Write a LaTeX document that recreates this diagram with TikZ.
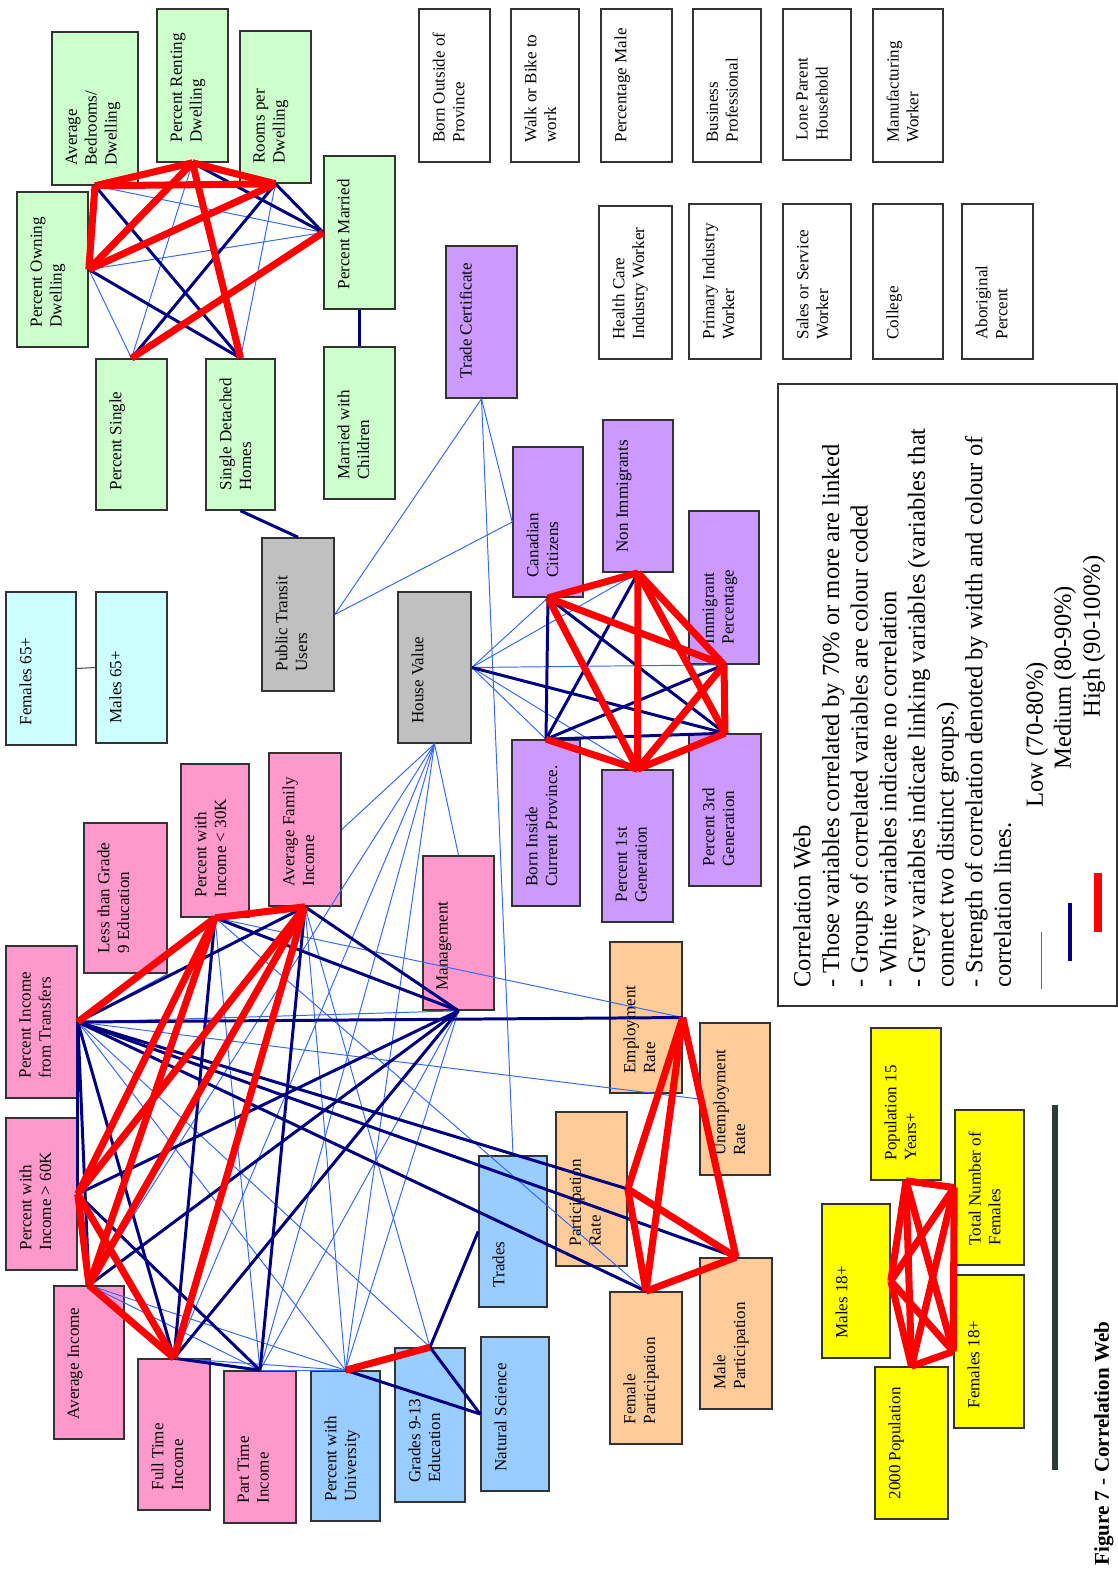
\documentclass[tikz,border=0pt]{standalone}
\usepackage{fontspec}
\setmainfont{Liberation Serif}
\usetikzlibrary{calc}
\definecolor{grn}{HTML}{CCFFCC}
\definecolor{prp}{HTML}{CC99FF}
\definecolor{pnk}{HTML}{FF99CC}
\definecolor{skyb}{HTML}{99CCFF}
\definecolor{orng}{HTML}{FFCC99}
\definecolor{yelw}{HTML}{FFFF00}
\definecolor{gry}{HTML}{C0C0C0}
\definecolor{cyn}{HTML}{CCFFFF}
\definecolor{navy}{HTML}{000080}
\definecolor{hired}{HTML}{FF0000}
\definecolor{lowblue}{HTML}{3366FF}
\definecolor{barc}{HTML}{2F3B3B}
\tikzset{
  box/.style={draw=black!80, line width=0.9pt, rectangle, inner sep=0pt},
  lbl/.style={rotate=90, anchor=north west, align=left, inner sep=0pt, font=\fontsize{9.7}{11.3}\selectfont},
  legtext/.style={rotate=90, inner sep=0pt, font=\fontsize{14}{16.3}\selectfont},
  low/.style={draw=lowblue, line width=0.55pt},
  med/.style={draw=navy, line width=1.7pt},
  high/.style={draw=hired, line width=4pt},
}
\def\corrbox[#1](#2)(#3,#4)(#5,#6)#7{%
  \node[box, fill=#1, minimum width={(#5-#3)*0.02cm}, minimum height={(#6-#4)*0.02cm}] (#2) at ({(#3+#5)/2},{(#4+#6)/2}) {};
  \node[lbl] at ([shift={(14,-20)}]#2.south west) {#7};}

\begin{document}
\begin{tikzpicture}[x=0.02cm, y=-0.02cm]
%%%%% START %%%%%
\useasboundingbox (0,0) rectangle (1118,1569);

% housing group
\corrbox[grn](avgbed)(52,32)(138,185){Average\\Bedrooms/\\Dwelling}
\corrbox[grn](rent)(157,9)(228,162){Percent Renting\\Dwelling}
\corrbox[grn](rooms)(240,31)(311,183){Rooms per\\Dwelling}
\corrbox[grn](own)(17,192)(88,347){Percent Owning\\Dwelling}
\corrbox[grn](married)(324,156)(395,309){Percent Married}
\corrbox[grn](single)(96,359)(167,510){Percent Single}
\corrbox[grn](detached)(206,359)(275,510){Single Detached\\Homes}
\corrbox[grn](marchild)(324,347)(395,499){Married with\\Children}

% no correlation
\corrbox[white](bornout)(419,9)(490,162){Born Outside of\\Province}
\corrbox[white](walk)(511,9)(579,162){Walk or Bike to\\work}
\corrbox[white](pctmale)(601,9)(672,162){Percentage Male}
\corrbox[white](busprof)(693,9)(761,162){Business\\Professional}
\corrbox[white](loneparent)(783,9)(851,160){Lone Parent\\Household}
\corrbox[white](manuf)(873,9)(943,162){Manufacturing\\Worker}
\corrbox[white](health)(599,206)(672,359){Health Care\\Industry Worker}
\corrbox[white](primary)(689,204)(761,359){Primary Industry\\Worker}
\corrbox[white](sales)(783,204)(851,359){Sales or Service\\Worker}
\corrbox[white](college)(873,204)(943,359){College}
\corrbox[white](aborig)(962,204)(1033,359){Aboriginal\\Percent}

% citizenship group
\corrbox[prp](trade)(446,246)(517,398){Trade Certificate}
\corrbox[prp](cc)(513,447)(583,597){Canadian\\Citizens}
\corrbox[prp](ni)(603,420)(673,572){Non Immigrants}
\corrbox[prp](ip)(689,511)(759,664){Immigrant\\Percentage}
\corrbox[prp](bi)(512,740)(580,906){Born Inside\\Current Province.}
\corrbox[prp](pf)(602,770)(673,922){Percent 1st\\Generation}
\corrbox[prp](pt)(689,734)(761,886){Percent 3rd\\Generation}

% linking variables
\corrbox[gry](transit)(262,538)(334,691){Public Transit\\Users}
\corrbox[gry](hv)(398,592)(471,743){House Value}

\corrbox[cyn](fem65)(6,592)(76,745){Females 65+}
\corrbox[cyn](male65)(96,592)(167,743){Males 65+}

% income group
\corrbox[pnk](lg9)(84,823)(167,973){Less than Grade\\9 Education}
\corrbox[pnk](inc30k)(181,764)(249,917){Percent with\\Income < 30K}
\corrbox[pnk](avgfam)(269,753)(341,906){Average Family\\Income}
\corrbox[pnk](mgmt)(423,856)(494,1010){Management}
\corrbox[pnk](transfers)(6,946)(77,1098){Percent Income\\from Transfers}
\corrbox[pnk](inc60k)(6,1118)(77,1270){Percent with\\Income > 60K}
\corrbox[pnk](avginc)(54,1286)(124,1439){Average Income}
\corrbox[pnk](fulltime)(138,1359)(210,1510){Full Time\\Income}
\corrbox[pnk](parttime)(224,1371)(296,1523){Part Time\\Income}

% education group
\corrbox[skyb](univ)(311,1371)(380,1521){Percent with\\University}
\corrbox[skyb](grades)(395,1348)(465,1502){Grades 9-13\\Education}
\corrbox[skyb](natsci)(481,1337)(549,1491){Natural Science}
\corrbox[skyb](trades)(479,1156)(547,1307){Trades}

% labour group
\corrbox[orng](emp)(610,942)(682,1093){Employment\\Rate}
\corrbox[orng](unemp)(700,1023)(770,1175){Unemployment\\Rate}
\corrbox[orng](part)(556,1112)(627,1266){Participation\\Rate}
\corrbox[orng](femp)(610,1292)(682,1444){Female\\Participation}
\corrbox[orng](malep)(700,1258)(772,1409){Male\\Participation}

% population group
\corrbox[yelw](pop15)(871,1028)(941,1180){Population 15\\Years+}
\corrbox[yelw](males18)(822,1204)(890,1358){Males 18+}
\corrbox[yelw](totfem)(955,1110)(1024,1265){Total Number of\\Females}
\corrbox[yelw](fem18)(954,1275)(1024,1428){Females 18+}
\corrbox[yelw](pop2000)(875,1367)(948,1519){2000 Population}

\draw[black!70, line width=0.6pt] (fem65.east) -- (male65.west);

% low (70-80%)
\foreach \a/\b in {avgbed.south/married.west, own.east/married.west, own.east/single.north,
    rent.south/single.north, rooms.south/detached.north,
    transit.east/trade.south, transit.east/cc.west, trade.south/cc.west, trade.south/trades.north,
    hv.east/cc.south, hv.east/ni.south, hv.east/ip.south, hv.east/bi.north, hv.east/pf.north,
    transfers.east/mgmt.south, transfers.east/unemp.west, transfers.east/grades.north,
    transfers.east/univ.north, transfers.east/lg9.south east, inc30k.south/emp.east,
    inc30k.south/femp.north, inc30k.south/parttime.north, avgfam.south/univ.north,
    avgfam.south/grades.north, mgmt.south/parttime.north, mgmt.south/univ.north,
    avginc.north/parttime.north, avginc.north/univ.north, fulltime.north/univ.north,
    parttime.north/univ.north, hv.south/avgfam.east, hv.south/mgmt.north, hv.south/avginc.north,
    hv.south/fulltime.north, hv.south/parttime.north, hv.south/univ.north}
  \draw[low] (\a) -- (\b);

% medium (80-90%)
\foreach \a/\b in {avgbed.south/detached.north, own.east/detached.north, rooms.south/single.north,
    rooms.south/married.west, rent.south/married.west, married.south/marchild.north,
    detached.south/transit.north,
    hv.east/pt.north, cc.south/bi.north, cc.south/pt.north, ni.south/bi.north, ip.south/bi.north,
    bi.north/pt.north,
    transfers.east/avgfam.south, transfers.east/inc60k.east, transfers.east/avginc.north,
    transfers.east/fulltime.north, transfers.east/emp.east, transfers.east/part.east,
    transfers.east/malep.north, transfers.east/femp.north, inc30k.south/fulltime.north,
    inc30k.south/mgmt.south, avgfam.south/parttime.north, avgfam.south/mgmt.south,
    mgmt.south/inc60k.east, mgmt.south/avginc.north, mgmt.south/fulltime.north,
    inc60k.east/parttime.north, fulltime.north/parttime.north, grades.north/trades.west,
    grades.north/natsci.west, univ.north/natsci.west}
  \draw[med] (\a) -- (\b);

% high (90-100%)
\foreach \a/\b in {avgbed.south/rent.south, rent.south/rooms.south, avgbed.south/rooms.south,
    avgbed.south/own.east, own.east/rent.south, own.east/rooms.south, rent.south/detached.north,
    married.west/single.north,
    cc.south/ni.south, cc.south/ip.south, cc.south/pf.north, ni.south/ip.south, ni.south/pt.north,
    ni.south/pf.north, ip.south/pt.north, ip.south/pf.north, bi.north/pf.north, pf.north/pt.north,
    transfers.east/inc30k.south, inc30k.south/avgfam.south, inc30k.south/inc60k.east,
    inc30k.south/avginc.north, avgfam.south/inc60k.east, avgfam.south/avginc.north,
    avgfam.south/fulltime.north, inc60k.east/avginc.north, inc60k.east/fulltime.north,
    avginc.north/fulltime.north, univ.north/grades.north,
    emp.east/part.east, emp.east/femp.north, emp.east/malep.north, part.east/femp.north,
    part.east/malep.north, femp.north/malep.north,
    pop15.south/totfem.west, pop15.south/males18.east, pop15.south/fem18.west,
    pop15.south/pop2000.north, totfem.west/males18.east, totfem.west/fem18.west,
    totfem.west/pop2000.north, males18.east/fem18.west, males18.east/pop2000.north,
    fem18.west/pop2000.north}
  \draw[high] (\a) -- (\b);

% legend
\draw[black!80, line width=0.9pt] (778,384) rectangle (1117,1006);
\node[legtext, anchor=north west, align=left] (legtxt) at (793,988) {Correlation Web\\- Those variables correlated by 70\% or more are linked\\- Groups of correlated variables are colour coded\\- White variables indicate no correlation\\- Grey variables indicate linking variables (variables that\\connect two distinct groups.)\\- Strength of correlation denoted by width and colour of\\correlation lines.};
\node[legtext, anchor=west] (leglow) at (1037,808) {Low (70-80\%)};
\node[legtext, anchor=west] (legmed) at (1065,770) {Medium (80-90\%)};
\node[legtext, anchor=west] (leghigh) at (1094,718) {High (90-100\%)};
\draw[low] (1041,932) -- (1041,989);
\draw[navy, line width=2.6pt] (1070,903) -- (1070,961);
\draw[hired, line width=5pt] (1098,873) -- (1098,932);

\fill[barc] (1052,1105) rectangle (1058,1470);
\node[rotate=90, anchor=west, inner sep=0pt, font=\bfseries\fontsize{12}{14}\selectfont] (caption) at (1104,1566) {Figure 7 - Correlation Web};
%%%%% END %%%%%
\end{tikzpicture}
\end{document}
